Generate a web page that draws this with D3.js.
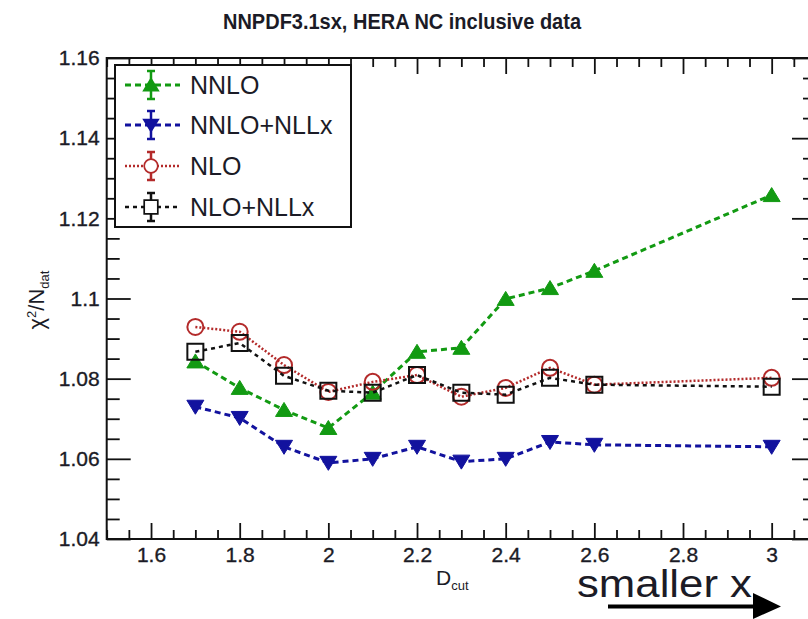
<!DOCTYPE html>
<html>
<head>
<meta charset="utf-8">
<script src="https://cdn.jsdelivr.net/npm/d3@7/dist/d3.min.js"></script>
<style>
  html, body { margin: 0; padding: 0; background: #fff; overflow: hidden; }
  svg { display: block; }
  text { font-family: "Liberation Sans", Arial, Helvetica, sans-serif; fill: #1b1b26; }
</style>
</head>
<body>
<svg id="chart" width="808" height="619"></svg>
<script>
// D_cut values of the fits
const dcut = [1.7, 1.8, 1.9, 2.0, 2.1, 2.2, 2.3, 2.4, 2.5, 2.6, 3.0];

// chi2/Ndat for each theory setting
const nnlo     = [1.0843, 1.0777, 1.0722, 1.0677, 1.0765, 1.0867, 1.0877, 1.0999, 1.1026, 1.1069, 1.1258];
const nnloNllx = [1.0730, 1.0702, 1.0630, 1.0590, 1.0600, 1.0630, 1.0593, 1.0600, 1.0642, 1.0635, 1.0630];
const nlo      = [1.0929, 1.0917, 1.0834, 1.0767, 1.0792, 1.0809, 1.0755, 1.0777, 1.0827, 1.0785, 1.0802];
const nloNllx  = [1.0867, 1.0889, 1.0807, 1.0770, 1.0765, 1.0809, 1.0765, 1.0760, 1.0802, 1.0785, 1.0780];

const seriesNames = ["NNLO", "NNLO+NLLx", "NLO", "NLO+NLLx"];

// axis ticks
const xMajorTicks = [1.6, 1.8, 2.0, 2.2, 2.4, 2.6, 2.8, 3.0];
const yMajorTicks = [1.04, 1.06, 1.08, 1.10, 1.12, 1.14, 1.16];

const titleText = "NNPDF3.1sx, HERA NC inclusive data";

const svg = d3.select("#chart");

const plot = { left: 106.7, right: 816, top: 58, bottom: 539 };
const x = d3.scaleLinear().domain([1.5, 3.1]).range([plot.left, plot.right]);
const y = d3.scaleLinear().domain([1.04, 1.16]).range([plot.bottom, plot.top]);

const fmt = d => String(+d.toFixed(2));
const xMinor = d3.range(30, 63).map(i => i * 0.05).filter(v => !xMajorTicks.some(m => Math.abs(m - v) < 1e-6));
const yMinor = d3.range(208, 233).map(i => i * 0.005).filter(v => !yMajorTicks.some(m => Math.abs(m - v) < 1e-6));

function styleAxis(g) {
  g.select(".domain").remove();
  g.selectAll(".tick line").attr("stroke", "#111").attr("stroke-width", 1.8);
  g.selectAll(".tick text").attr("font-size", 21).attr("fill", "#1b1b26")
    .attr("stroke", "#1b1b26").attr("stroke-width", 0.35)
    .attr("font-family", "'Liberation Sans', Arial, sans-serif");
}

// bottom axis
svg.append("g").attr("transform", `translate(0,${plot.bottom})`)
  .call(d3.axisBottom(x).tickValues(xMajorTicks).tickSize(-16).tickPadding(8).tickFormat(fmt)).call(styleAxis);
svg.append("g").attr("transform", `translate(0,${plot.bottom})`)
  .call(d3.axisBottom(x).tickValues(xMinor).tickSize(-9).tickFormat("")).call(styleAxis);
// top axis
svg.append("g").attr("transform", `translate(0,${plot.top})`)
  .call(d3.axisTop(x).tickValues(xMajorTicks).tickSize(-16).tickFormat("")).call(styleAxis);
svg.append("g").attr("transform", `translate(0,${plot.top})`)
  .call(d3.axisTop(x).tickValues(xMinor).tickSize(-9).tickFormat("")).call(styleAxis);
// left axis
svg.append("g").attr("transform", `translate(${plot.left},0)`)
  .call(d3.axisLeft(y).tickValues(yMajorTicks).tickSize(-24).tickPadding(7).tickFormat(fmt)).call(styleAxis);
svg.append("g").attr("transform", `translate(${plot.left},0)`)
  .call(d3.axisLeft(y).tickValues(yMinor).tickSize(-13).tickFormat("")).call(styleAxis);
// right axis
svg.append("g").attr("transform", `translate(${plot.right},0)`)
  .call(d3.axisRight(y).tickValues(yMajorTicks).tickSize(-24).tickFormat("")).call(styleAxis);
svg.append("g").attr("transform", `translate(${plot.right},0)`)
  .call(d3.axisRight(y).tickValues(yMinor).tickSize(-13).tickFormat("")).call(styleAxis);

// frame
svg.append("rect")
  .attr("x", plot.left).attr("y", plot.top)
  .attr("width", plot.right - plot.left).attr("height", plot.bottom - plot.top)
  .attr("fill", "none").attr("stroke", "#111").attr("stroke-width", 2);

// marker shapes
const markerPath = {
  triUp:   "M0,-7.5L8.5,6.5L-8.5,6.5Z",
  triDown: "M0,7.5L8.5,-6.5L-8.5,-6.5Z",
  circle:  "M8,0A8,8 0 1,1 -8,0A8,8 0 1,1 8,0Z",
  square:  "M-8,-8H8V8H-8Z"
};

const series = [
  { name: seriesNames[0], values: nnlo,     color: "#129a12", dash: "6,4", width: 3,   marker: "triUp",   filled: true },
  { name: seriesNames[1], values: nnloNllx, color: "#12129e", dash: "6,4", width: 3,   marker: "triDown", filled: true },
  { name: seriesNames[2], values: nlo,      color: "#b32a2a", dash: "2,2", width: 2.5, marker: "circle",  filled: false },
  { name: seriesNames[3], values: nloNllx,  color: "#111111", dash: "4,4", width: 2.5, marker: "square",  filled: false }
];

const line = d3.line().x(d => x(d[0])).y(d => y(d[1]));

series.forEach(s => {
  const pts = dcut.map((d, i) => [d, s.values[i]]);
  const g = svg.append("g");
  g.append("path").datum(pts).attr("d", line)
    .attr("fill", "none").attr("stroke", s.color)
    .attr("stroke-width", s.width).attr("stroke-dasharray", s.dash);
  g.selectAll("path.mk").data(pts).join("path").attr("class", "mk")
    .attr("d", markerPath[s.marker])
    .attr("transform", d => `translate(${x(d[0])},${y(d[1])})`)
    .attr("fill", s.filled ? s.color : "none")
    .attr("stroke", s.color).attr("stroke-width", s.filled ? 1 : 2);
});

// legend
const leg = svg.append("g");
leg.append("rect").attr("x", 115).attr("y", 65).attr("width", 236).attr("height", 162)
  .attr("fill", "#fff").attr("stroke", "#111").attr("stroke-width", 2);
const rowY = [85, 125, 166, 207];
series.forEach((s, i) => {
  const ry = rowY[i];
  const r = leg.append("g");
  r.append("line").attr("x1", 125).attr("x2", 180).attr("y1", ry).attr("y2", ry)
    .attr("stroke", s.color).attr("stroke-width", s.width).attr("stroke-dasharray", s.dash);
  r.append("path")
    .attr("d", `M151,${ry - 14}V${ry + 14}M147,${ry - 14}H155M147,${ry + 14}H155`)
    .attr("stroke", s.color).attr("stroke-width", 2.5).attr("fill", "none");
  r.append("path").attr("d", markerPath[s.marker])
    .attr("transform", `translate(151,${ry}) scale(0.85)`)
    .attr("fill", s.filled ? s.color : "#fff")
    .attr("stroke", s.color).attr("stroke-width", 2);
  r.append("text").attr("x", 190).attr("y", ry + 9).attr("font-size", 25).text(s.name);
});

// title
svg.append("text").attr("transform", "translate(402,29) scale(1,1.12)").attr("text-anchor", "middle")
  .attr("font-size", 20).attr("font-weight", "bold").text(titleText);

// x axis label
const xl = svg.append("text").attr("x", 436).attr("y", 585).attr("font-size", 21);
xl.append("tspan").text("D");
xl.append("tspan").attr("font-size", 13).attr("dy", 5).text("cut");

// y axis label
const yl = svg.append("text").attr("transform", "translate(44,300) rotate(-90)")
  .attr("text-anchor", "middle").attr("font-size", 22);
yl.append("tspan").text("χ");
yl.append("tspan").attr("font-size", 13).attr("dy", -8).text("2");
yl.append("tspan").attr("dy", 8).text("/N");
yl.append("tspan").attr("font-size", 13).attr("dy", 5).text("dat");

// annotation: direction of smaller x
svg.append("text").attr("x", 577).attr("y", 597)
  .attr("font-family", "Lato, 'Open Sans', sans-serif").attr("font-size", 38)
  .attr("fill", "#000").attr("textLength", 175).attr("lengthAdjust", "spacingAndGlyphs")
  .text("smaller x");
svg.append("path").attr("d", "M608,604.5H756V608.5H608Z M753,593L781,606.5L753,619Z").attr("fill", "#000");
</script>
</body>
</html>
